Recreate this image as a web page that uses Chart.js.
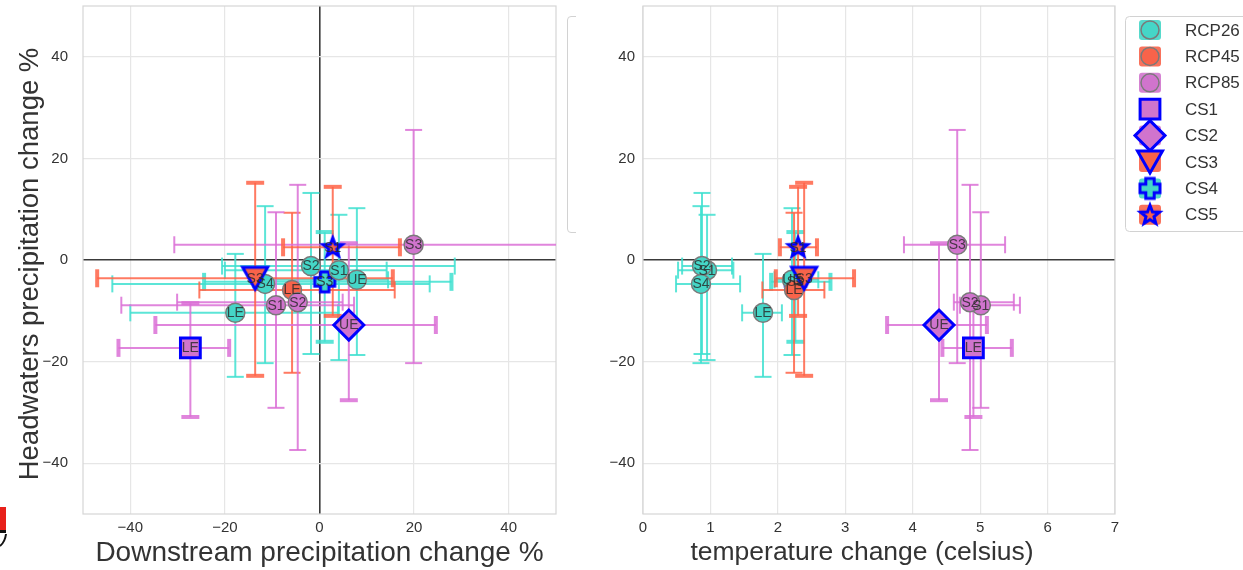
<!DOCTYPE html>
<html><head><meta charset="utf-8">
<script src="https://cdn.jsdelivr.net/npm/chart.js@4.4.1/dist/chart.umd.min.js"></script>
<style>
html,body{margin:0;padding:0;background:#fff;width:1243px;height:570px;overflow:hidden}
#cl{position:absolute;left:0;top:0}
#cr{position:absolute;left:560px;top:0}
</style></head><body>
<canvas id="cl" width="560" height="570"></canvas>
<canvas id="cr" width="683" height="570"></canvas>
<script>
// ---------------- data ----------------
const scenarioNames = ['RCP26', 'RCP45', 'RCP85'];

const sites26   = ['S1', 'S2', 'S3', 'S4', 'UE', 'LE'];
const down26    = [4.1, -1.8, 1.1, -11.5, 7.9, -17.8];
const down26Lo  = [-20.0, -20.6, -24.4, -43.8, -14.0, -40.0];
const down26Hi  = [14.2, 28.6, 27.9, 23.3, 14.5, 3.9];
const head26    = [-2.0, -1.2, -4.3, -4.7, -3.9, -10.4];
const head26Lo  = [-19.7, -18.5, -16.1, -20.3, -18.7, -23.0];
const head26Hi  = [8.9, 13.2, 5.5, 10.6, 10.2, 1.2];
const temp26    = [0.95, 0.875, 2.26, 0.86, 2.21, 1.78];
const temp26Lo  = [0.52, 0.58, 1.9, 0.49, 1.95, 1.47];
const temp26Hi  = [1.34, 1.32, 2.78, 1.44, 2.6, 2.06];

const sites45   = ['LE', 'S3', 'S1'];
const down45    = [-5.8, -13.6, 2.8];
const down45Lo  = [-25.4, -47.0, -7.7];
const down45Hi  = [15.9, 15.5, 17.0];
const head45    = [-5.9, -3.6, 2.5];
const head45Lo  = [-22.2, -22.8, -11.0];
const head45Hi  = [9.3, 15.2, 14.4];
const temp45    = [2.24, 2.39, 2.30];
const temp45Lo  = [1.77, 1.97, 2.03];
const temp45Hi  = [2.69, 3.13, 2.58];

const sites85   = ['S1', 'S2', 'S3', 'UE', 'LE'];
const down85    = [-9.2, -4.6, 19.9, 6.2, -27.3];
const down85Lo  = [-41.9, -30.1, -30.7, -34.7, -42.5];
const down85Hi  = [7.3, 4.9, 60, 24.6, -19.1];
const head85    = [-8.9, -8.3, 3.0, -12.8, -17.3];
const head85Lo  = [-29.1, -37.4, -20.3, -27.6, -30.9];
const head85Hi  = [9.4, 14.8, 25.6, 3.3, -8.5];
const temp85    = [5.01, 4.85, 4.66, 4.39, 4.90];
const temp85Lo  = [4.7, 4.61, 3.87, 3.62, 4.44];
const temp85Hi  = [5.59, 5.5, 5.37, 5.10, 5.47];

const csNames    = ['CS1', 'CS2', 'CS3', 'CS4', 'CS5'];
const csScenario = ['RCP85', 'RCP85', 'RCP45', 'RCP26', 'RCP45'];
const csSite     = ['LE', 'UE', 'S3', 'S3', 'S1'];

const downTicks = [-40, -20, 0, 20, 40];
const headTicks = [-40, -20, 0, 20, 40];
const tempTicks = [0, 1, 2, 3, 4, 5, 6, 7];

// ---------------- styles ----------------
const COLORS = {RCP26: '#45D6C7', RCP45: '#F8634A', RCP85: '#D074CD'};
const ERRC = {RCP26: 'rgba(64,224,208,0.85)', RCP45: 'rgba(255,99,71,0.85)', RCP85: 'rgba(218,112,214,0.85)'};
const FAMILY = "'Liberation Sans', Arial, Helvetica, sans-serif";
const tickFont = {family: FAMILY, size: 15};
const BLUE = '#0000FF';

const SCEN = {
  RCP26: {site: sites26, down: down26, downLo: down26Lo, downHi: down26Hi, head: head26, headLo: head26Lo, headHi: head26Hi, temp: temp26, tempLo: temp26Lo, tempHi: temp26Hi},
  RCP45: {site: sites45, down: down45, downLo: down45Lo, downHi: down45Hi, head: head45, headLo: head45Lo, headHi: head45Hi, temp: temp45, tempLo: temp45Lo, tempHi: temp45Hi},
  RCP85: {site: sites85, down: down85, downLo: down85Lo, downHi: down85Hi, head: head85, headLo: head85Lo, headHi: head85Hi, temp: temp85, tempLo: temp85Lo, tempHi: temp85Hi}
};

function makeImg(w, h, draw) {
  const c = document.createElement('canvas'); c.width = w; c.height = h;
  draw(c.getContext('2d'), w, h); return c;
}
function plusPath(g, cx, cy, a, t) {
  g.beginPath();
  g.moveTo(cx - t, cy - a); g.lineTo(cx + t, cy - a); g.lineTo(cx + t, cy - t); g.lineTo(cx + a, cy - t);
  g.lineTo(cx + a, cy + t); g.lineTo(cx + t, cy + t); g.lineTo(cx + t, cy + a); g.lineTo(cx - t, cy + a);
  g.lineTo(cx - t, cy + t); g.lineTo(cx - a, cy + t); g.lineTo(cx - a, cy - t); g.lineTo(cx - t, cy - t);
  g.closePath();
}
function starPath(g, cx, cy, R, r) {
  g.beginPath();
  for (let k = 0; k < 10; k++) {
    const ang = -Math.PI / 2 + k * Math.PI / 5;
    const rr = k % 2 === 0 ? R : r;
    const px = cx + rr * Math.cos(ang), py = cy + rr * Math.sin(ang);
    if (k === 0) g.moveTo(px, py); else g.lineTo(px, py);
  }
  g.closePath();
}
function triPath(g, cx, cy, hw, hh) {
  g.beginPath(); g.moveTo(cx - hw, cy - hh); g.lineTo(cx + hw, cy - hh); g.lineTo(cx, cy + hh); g.closePath();
}
function styled(g, fill) { g.fillStyle = fill; g.fill(); g.lineWidth = 3; g.strokeStyle = BLUE; g.stroke(); }
const triImg = fill => makeImg(36, 34, g => { triPath(g, 18, 17, 12.5, 11); styled(g, fill); });
const plusImg = fill => makeImg(28, 28, g => { plusPath(g, 14, 14, 10, 4.2); styled(g, fill); });
const starImg = fill => makeImg(28, 28, g => { starPath(g, 14, 14.5, 10, 4.2); styled(g, fill); });

const CS_STYLE = [
  {style: () => 'rect', r: 14},
  {style: () => 'rectRot', r: 15},
  {style: k => triImg(COLORS[k]), r: 13},
  {style: k => plusImg(COLORS[k]), r: 12},
  {style: k => starImg(COLORS[k]), r: 11}
];

function pt(key, i, side) {
  const s = SCEN[key], L = side === 'left';
  return {
    x: L ? s.down[i] : s.temp[i], xLo: L ? s.downLo[i] : s.tempLo[i], xHi: L ? s.downHi[i] : s.tempHi[i],
    y: s.head[i], yLo: s.headLo[i], yHi: s.headHi[i], site: s.site[i]
  };
}
function isCS(key, site) { return csScenario.some((k, j) => k === key && csSite[j] === site); }
function buildDatasets(side) {
  const circ = key => ({
    label: key,
    data: SCEN[key].site.map((s, i) => i).filter(i => !isCS(key, SCEN[key].site[i])).map(i => pt(key, i, side)),
    pointStyle: 'circle', pointRadius: 9.5, backgroundColor: COLORS[key], borderColor: '#7a7a7a', borderWidth: 1.5,
    errColor: ERRC[key], thick: false
  });
  const cs = j => {
    const key = csScenario[j]; const i = SCEN[key].site.indexOf(csSite[j]); const st = CS_STYLE[j];
    return {
      label: csNames[j], data: [pt(key, i, side)], pointStyle: st.style(key), pointRadius: st.r,
      backgroundColor: COLORS[key], borderColor: BLUE, borderWidth: 3, errColor: ERRC[key], thick: true
    };
  };
  // first dataset is drawn on top
  return [cs(4), cs(2), cs(1), cs(0), circ('RCP85'), circ('RCP45'), circ('RCP26'), cs(3)];
}

// ---------------- plugins ----------------
const frame = {
  id: 'frame',
  beforeDatasetsDraw(chart) {
    const {ctx, chartArea: a} = chart;
    ctx.save(); ctx.strokeStyle = '#d6d6d6'; ctx.lineWidth = 1.2;
    ctx.strokeRect(a.left, a.top, a.right - a.left, a.bottom - a.top);
    ctx.restore();
  }
};
const errorBars = {
  id: 'errorBars',
  beforeDatasetsDraw(chart) {
    const {ctx, chartArea: a, scales: {x, y}} = chart;
    ctx.save();
    ctx.beginPath(); ctx.rect(a.left, a.top, a.right - a.left, a.bottom - a.top); ctx.clip();
    const seg = (x0, y0, x1, y1) => { ctx.beginPath(); ctx.moveTo(x0, y0); ctx.lineTo(x1, y1); ctx.stroke(); };
    const ds = chart.data.datasets;
    for (let d = ds.length - 1; d >= 0; d--) {
      const set = ds[d];
      ctx.strokeStyle = set.errColor;
      set.data.forEach(p => {
        const px = x.getPixelForValue(p.x), py = y.getPixelForValue(p.y);
        const x0 = x.getPixelForValue(p.xLo), x1 = x.getPixelForValue(p.xHi);
        const y0 = y.getPixelForValue(p.yLo), y1 = y.getPixelForValue(p.yHi);
        ctx.lineWidth = 2; ctx.lineCap = 'butt';
        seg(x0, py, x1, py); seg(px, y0, px, y1);
        const c = set.thick ? 9 : 8.5;
        ctx.lineWidth = set.thick ? 4 : 2;
        seg(x0, py - c, x0, py + c); seg(x1, py - c, x1, py + c);
        seg(px - c, y0, px + c, y0); seg(px - c, y1, px + c, y1);
      });
    }
    ctx.restore();
  }
};
const pointLabels = {
  id: 'pointLabels',
  afterDatasetsDraw(chart) {
    const ctx = chart.ctx;
    ctx.save();
    ctx.font = "14px " + FAMILY; ctx.fillStyle = 'rgba(40,40,40,0.82)';
    ctx.textAlign = 'center'; ctx.textBaseline = 'middle';
    const ds = chart.data.datasets;
    for (let d = ds.length - 1; d >= 0; d--) {
      const meta = chart.getDatasetMeta(d);
      meta.data.forEach((el, j) => ctx.fillText(ds[d].data[j].site, el.x, el.y + 0.5));
    }
    ctx.restore();
  }
};
// axis titles placed to match the reference
const axisTitles = side => ({
  id: 'axisTitles',
  afterDraw(chart) {
    const {ctx, chartArea: a} = chart;
    ctx.save();
    ctx.fillStyle = '#333'; ctx.textAlign = 'center'; ctx.textBaseline = 'middle';
    if (side === 'left') {
      ctx.font = "28px " + FAMILY;
      ctx.fillText('Downstream precipitation change %', (a.left + a.right) / 2, 553);
      ctx.save();
      ctx.translate(30, (a.top + a.bottom) / 2 + 4);
      ctx.rotate(-Math.PI / 2);
      ctx.font = "27.5px " + FAMILY;
      ctx.fillText('Headwaters precipitation change %', 0, 0);
      ctx.restore();
      // small red/black badge cut off at the lower-left corner of the figure
      ctx.fillStyle = '#e8201a'; ctx.fillRect(0, 507, 6, 23);
      ctx.fillStyle = '#111'; ctx.fillRect(0, 530, 6, 3);
      ctx.strokeStyle = '#111'; ctx.lineWidth = 2;
      ctx.beginPath(); ctx.moveTo(6, 534); ctx.quadraticCurveTo(5, 542, 0, 546); ctx.stroke();
    } else {
      ctx.font = "26.5px " + FAMILY;
      ctx.fillText('temperature change (celsius)', (a.left + a.right) / 2 - 17, 553);
    }
    ctx.restore();
  }
});
function roundRectPath(ctx, x, y, w, h, r) {
  ctx.beginPath(); ctx.moveTo(x + r, y); ctx.lineTo(x + w - r, y); ctx.quadraticCurveTo(x + w, y, x + w, y + r);
  ctx.lineTo(x + w, y + h - r); ctx.quadraticCurveTo(x + w, y + h, x + w - r, y + h); ctx.lineTo(x + r, y + h);
  ctx.quadraticCurveTo(x, y + h, x, y + h - r); ctx.lineTo(x, y + r); ctx.quadraticCurveTo(x, y, x + r, y); ctx.closePath();
}
const legendBox = {
  id: 'legendBox',
  afterDraw(chart) {
    const ctx = chart.ctx;
    ctx.save();
    ctx.strokeStyle = '#d2d2d2'; ctx.lineWidth = 1;
    // edge of the neighbouring legend frame
    ctx.beginPath(); ctx.moveTo(16, 16.5); ctx.lineTo(11, 16.5); ctx.quadraticCurveTo(7.5, 16.5, 7.5, 20);
    ctx.lineTo(7.5, 229); ctx.quadraticCurveTo(7.5, 232.5, 11, 232.5); ctx.lineTo(16, 232.5); ctx.stroke();
    // legend frame
    roundRectPath(ctx, 565.5, 16.5, 140, 215, 4);
    ctx.fillStyle = 'rgba(255,255,255,0.9)'; ctx.fill(); ctx.stroke();
    const names = scenarioNames.concat(csNames);
    const mx = 590;
    names.forEach((name, i) => {
      const yy = 30 + i * 26.4;
      const key = i < 3 ? name : csScenario[i - 3];
      ctx.globalAlpha = 0.9; ctx.fillStyle = COLORS[key];
      roundRectPath(ctx, mx - 11, yy - 10, 22, 20, 3); ctx.fill();
      ctx.globalAlpha = 1;
      if (i < 3) {
        ctx.beginPath(); ctx.arc(mx, yy, 9, 0, Math.PI * 2); ctx.fillStyle = COLORS[key]; ctx.fill();
        ctx.lineWidth = 1.5; ctx.strokeStyle = '#7a7a7a'; ctx.stroke();
      } else {
        const j = i - 3;
        ctx.fillStyle = COLORS[key]; ctx.strokeStyle = BLUE; ctx.lineWidth = 3;
        if (j === 0) { ctx.beginPath(); ctx.rect(mx - 9.9, yy - 9.9, 19.8, 19.8); ctx.fill(); ctx.stroke(); }
        else if (j === 1) { ctx.beginPath(); ctx.moveTo(mx, yy - 15); ctx.lineTo(mx + 15, yy); ctx.lineTo(mx, yy + 15); ctx.lineTo(mx - 15, yy); ctx.closePath(); ctx.fill(); ctx.stroke(); }
        else {
          const img = CS_STYLE[j].style(key);
          ctx.drawImage(img, mx - img.width / 2, yy - img.height / 2);
        }
      }
      ctx.fillStyle = '#333'; ctx.font = "17px " + FAMILY; ctx.textAlign = 'left'; ctx.textBaseline = 'middle';
      ctx.fillText(name, 625, yy + 1);
    });
    ctx.restore();
  }
};

const fmt = v => v < 0 ? '\u2212' + Math.abs(v) : String(v);
const gridColor = c => (c.tick && c.tick.value === 0) ? '#3a3a3a' : '#e6e6e6';
const gridWidth = c => (c.tick && c.tick.value === 0) ? 1.6 : 1.2;
const zeroPad = s => { s.paddingTop = 0; s.paddingBottom = 0; s.paddingLeft = 0; s.paddingRight = 0; };

function yScale(gap) {
  return {
    type: 'linear', min: -50, max: 50,
    afterBuildTicks: s => { s.ticks = headTicks.map(v => ({value: v})); },
    afterFit: s => { s.width = 83; zeroPad(s); },
    grid: {drawTicks: false, color: gridColor, lineWidth: gridWidth},
    border: {display: false},
    ticks: {padding: gap, font: tickFont, color: '#333', callback: v => fmt(v)},
    title: {display: false}
  };
}
function xScale(min, max, ticksArr, colorFn, widthFn) {
  return {
    type: 'linear', min, max,
    afterBuildTicks: s => { s.ticks = ticksArr.map(v => ({value: v})); },
    afterFit: s => { s.height = 56; zeroPad(s); },
    grid: {drawTicks: false, color: colorFn, lineWidth: widthFn},
    border: {display: false},
    ticks: {padding: 5, font: tickFont, color: '#333', callback: v => fmt(v)},
    title: {display: false}
  };
}
function baseOptions(padding, xs, ys) {
  return {
    responsive: false, animation: false, events: [], devicePixelRatio: 1,
    layout: {padding, autoPadding: false},
    plugins: {legend: {display: false}, tooltip: {enabled: false}},
    scales: {x: xs, y: ys}
  };
}

new Chart(document.getElementById('cl'), {
  type: 'scatter',
  data: {datasets: buildDatasets('left')},
  options: baseOptions({left: 0, right: 4, top: 6, bottom: 0},
    xScale(-50, 50, downTicks, gridColor, gridWidth), yScale(15)),
  plugins: [frame, errorBars, pointLabels, axisTitles('left')]
});

new Chart(document.getElementById('cr'), {
  type: 'scatter',
  data: {datasets: buildDatasets('right')},
  options: baseOptions({left: 0, right: 128, top: 6, bottom: 0},
    xScale(0, 7, tempTicks, '#e6e6e6', 1.2), yScale(8)),
  plugins: [frame, errorBars, pointLabels, axisTitles('right'), legendBox]
});
</script>
</body></html>
